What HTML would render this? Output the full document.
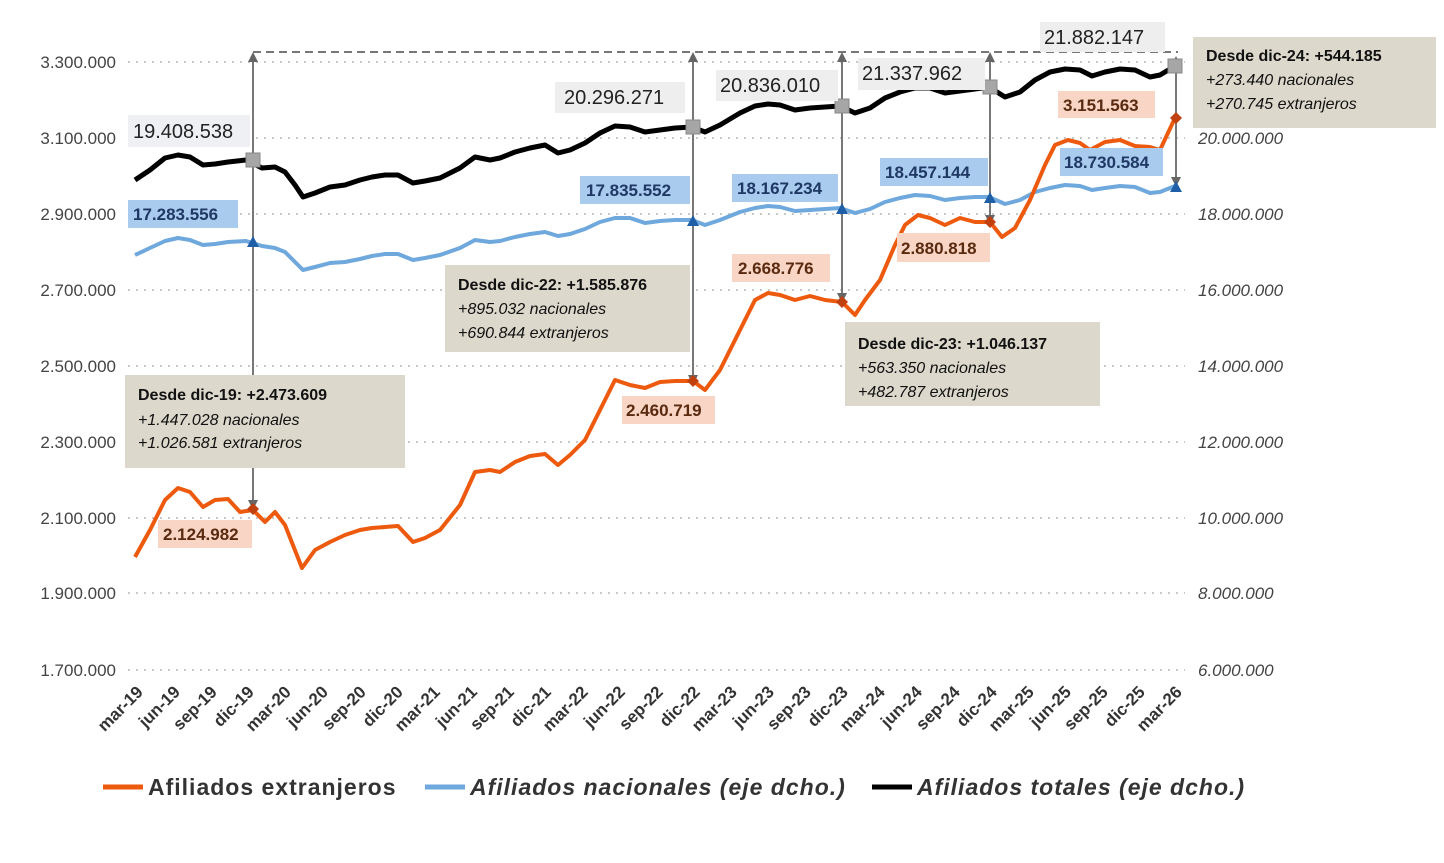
<!DOCTYPE html>
<html><head><meta charset="utf-8"><style>
body{margin:0;background:#fff}
svg{display:block;font-family:"Liberation Sans",sans-serif}
</style></head><body>
<svg width="1444" height="863" viewBox="0 0 1444 863" xmlns="http://www.w3.org/2000/svg">
<g stroke="#c8c8c8" stroke-width="2" stroke-dasharray="2,6">
<line x1="128" y1="62" x2="1185" y2="62"/><line x1="128" y1="138" x2="1185" y2="138"/>
<line x1="128" y1="214" x2="1185" y2="214"/><line x1="128" y1="290" x2="1185" y2="290"/>
<line x1="128" y1="366" x2="1185" y2="366"/><line x1="128" y1="442" x2="1185" y2="442"/>
<line x1="128" y1="518" x2="1185" y2="518"/><line x1="128" y1="593" x2="1185" y2="593"/>
<line x1="128" y1="670" x2="1185" y2="670"/>
</g>
<g font-size="17" fill="#444" text-anchor="end">
<text x="116" y="68">3.300.000</text><text x="116" y="144">3.100.000</text><text x="116" y="220">2.900.000</text>
<text x="116" y="296">2.700.000</text><text x="116" y="372">2.500.000</text><text x="116" y="448">2.300.000</text>
<text x="116" y="524">2.100.000</text><text x="116" y="599">1.900.000</text><text x="116" y="676">1.700.000</text>
</g>
<g font-size="17" fill="#444" font-style="italic">
<text x="1198" y="144">20.000.000</text><text x="1198" y="220">18.000.000</text><text x="1198" y="296">16.000.000</text>
<text x="1198" y="372">14.000.000</text><text x="1198" y="448">12.000.000</text><text x="1198" y="524">10.000.000</text>
<text x="1198" y="599">8.000.000</text><text x="1198" y="676">6.000.000</text>
</g>
<line x1="253" y1="52" x2="1178" y2="52" stroke="#777" stroke-width="2" stroke-dasharray="8,5"/>
<g stroke="#777" stroke-width="2">
<line x1="253" y1="55" x2="253" y2="505"/><line x1="693" y1="55" x2="693" y2="380"/>
<line x1="842" y1="55" x2="842" y2="298"/><line x1="990" y1="55" x2="990" y2="220"/>
<line x1="1176" y1="60" x2="1176" y2="183"/>
</g>
<g fill="#666">
<polygon points="248,62 253,52 258,62"/><polygon points="688,62 693,52 698,62"/><polygon points="837,62 842,52 847,62"/>
<polygon points="985,62 990,52 995,62"/><polygon points="1171,66 1176,56 1181,66"/>
<polygon points="688,375 693,385 698,375"/><polygon points="837,293 842,303 847,293"/><polygon points="985,215 990,225 995,215"/>
<polygon points="1171,177 1176,187 1181,177"/><polygon points="248,500 253,510 258,500"/>
</g>
<polyline fill="none" stroke="#000" stroke-width="5" stroke-linejoin="round" points="135,180 150,170 165,158 178,155 190,157 203,165 215,164 228,162 246,160 262,168 275,167 285,172 295,185 303,197 315,193 330,187 345,185 360,180 372,177 385,175 398,175 413,183 425,181 440,178 460,168 475,157 490,160 500,158 515,152 530,148 545,145 558,153 570,150 585,143 600,133 615,126 630,127 645,132 660,130 675,128 692,127 705,132 720,125 740,113 755,106 768,104 780,105 795,110 810,108 825,107 840,106 855,113 870,108 885,98 900,92 915,88 930,88 945,93 960,91 975,89 989,87 1005,97 1020,92 1035,80 1050,72 1065,69 1080,70 1092,76 1105,72 1120,69 1135,70 1150,77 1160,75 1175,66"/>
<polyline fill="none" stroke="#6fa8dc" stroke-width="4" stroke-linejoin="round" points="135,255 150,248 165,241 178,238 190,240 203,245 215,244 228,242 246,241 262,246 275,248 285,252 295,262 303,270 315,267 330,263 345,262 360,259 372,256 385,254 398,254 413,260 425,258 440,255 460,248 475,240 490,242 500,241 515,237 530,234 545,232 558,236 570,234 585,229 600,222 615,218 630,218 645,223 660,221 675,220 692,220 705,225 720,220 740,212 755,208 768,206 780,207 795,211 810,210 825,209 840,208 855,213 870,209 885,202 900,198 915,195 930,196 945,200 960,198 975,197 989,197 1005,204 1020,200 1035,192 1050,188 1065,185 1080,186 1092,190 1105,188 1120,186 1135,187 1150,193 1160,192 1175,186"/>
<polyline fill="none" stroke="#ed5a0e" stroke-width="4" stroke-linejoin="round" points="135,557 150,530 165,500 178,488 190,492 203,507 215,500 228,499 240,512 253,510 265,522 275,512 285,525 302,568 315,550 330,542 345,535 360,530 372,528 385,527 398,526 413,542 425,538 440,530 460,505 475,472 490,470 500,472 515,462 530,456 545,454 558,465 570,455 585,440 600,410 615,380 630,385 645,388 660,382 675,381 693,381 705,390 720,370 740,330 755,300 768,293 780,295 795,300 810,296 825,300 842,302 855,315 865,300 880,280 895,245 905,225 918,215 930,218 945,225 960,218 975,222 990,222 1002,237 1015,228 1030,200 1045,165 1055,145 1068,140 1080,143 1090,150 1105,142 1120,140 1135,146 1150,147 1160,150 1175,118"/>
<g fill="#a6a6a6" stroke="#888"><rect x="246" y="153" width="14" height="14"/><rect x="686" y="120" width="14" height="14"/><rect x="835" y="99" width="14" height="14"/><rect x="983" y="80" width="14" height="14"/><rect x="1168" y="59" width="14" height="14"/></g>
<g fill="#1f5fa8"><polygon points="253,236 247,247 259,247"/><polygon points="693,215 687,226 699,226"/><polygon points="842,203 836,214 848,214"/><polygon points="990,192 984,203 996,203"/><polygon points="1176,181 1170,192 1182,192"/></g>
<g fill="#c0400e"><polygon points="253,503 259,509 253,515 247,509"/><polygon points="693,375 699,381 693,387 687,381"/><polygon points="842,296 848,302 842,308 836,302"/><polygon points="990,216 996,222 990,228 984,222"/><polygon points="1176,112 1182,118 1176,124 1170,118"/></g>
<g font-size="20" fill="#222">
<rect x="128" y="115" width="122" height="32" fill="#eef0f4"/><text x="133" y="138">19.408.538</text>
<rect x="555" y="82" width="130" height="31" fill="#eeeeee"/><text x="564" y="104">20.296.271</text>
<rect x="716" y="70" width="122" height="31" fill="#eeeeee"/><text x="720" y="92">20.836.010</text>
<rect x="858" y="58" width="127" height="32" fill="#eeeeee"/><text x="862" y="80">21.337.962</text>
<rect x="1040" y="22" width="125" height="30" fill="#eeeeee"/><text x="1044" y="44">21.882.147</text>
</g>
<g font-size="17" fill="#1f3864" font-weight="bold">
<rect x="128" y="200" width="110" height="28" fill="#a9cbee"/><text x="133" y="220">17.283.556</text>
<rect x="580" y="176" width="110" height="28" fill="#a9cbee"/><text x="586" y="196">17.835.552</text>
<rect x="732" y="174" width="106" height="28" fill="#a9cbee"/><text x="737" y="194">18.167.234</text>
<rect x="880" y="158" width="108" height="28" fill="#a9cbee"/><text x="885" y="178">18.457.144</text>
<rect x="1060" y="148" width="103" height="28" fill="#a9cbee"/><text x="1064" y="168">18.730.584</text>
</g>
<g font-size="17" fill="#5a2a10" font-weight="bold">
<rect x="158" y="520" width="94" height="28" fill="#f8d5c4"/><text x="163" y="540">2.124.982</text>
<rect x="622" y="396" width="93" height="28" fill="#f8d5c4"/><text x="626" y="416">2.460.719</text>
<rect x="732" y="254" width="98" height="28" fill="#f8d5c4"/><text x="738" y="274">2.668.776</text>
<rect x="897" y="233" width="93" height="29" fill="#f8d5c4"/><text x="901" y="254">2.880.818</text>
<rect x="1058" y="91" width="97" height="27" fill="#f8d5c4"/><text x="1063" y="111">3.151.563</text>
</g>
<g fill="#dcd8cc"><rect x="125" y="375" width="280" height="93"/><rect x="445" y="265" width="245" height="87"/><rect x="845" y="322" width="255" height="84"/><rect x="1193" y="37" width="243" height="91"/></g>
<g font-size="16" fill="#111">
<text x="138" y="400" font-weight="bold">Desde dic-19: +2.473.609</text>
<text x="138" y="425" font-style="italic">+1.447.028 nacionales</text>
<text x="138" y="448" font-style="italic">+1.026.581 extranjeros</text>
<text x="458" y="290" font-weight="bold">Desde dic-22: +1.585.876</text>
<text x="458" y="314" font-style="italic">+895.032 nacionales</text>
<text x="458" y="338" font-style="italic">+690.844 extranjeros</text>
<text x="858" y="349" font-weight="bold">Desde dic-23: +1.046.137</text>
<text x="858" y="373" font-style="italic">+563.350  nacionales</text>
<text x="858" y="397" font-style="italic">+482.787 extranjeros</text>
<text x="1206" y="61" font-weight="bold">Desde dic-24: +544.185</text>
<text x="1206" y="85" font-style="italic">+273.440  nacionales</text>
<text x="1206" y="109" font-style="italic">+270.745  extranjeros</text>
</g>
<g font-size="17" fill="#333" font-weight="bold" text-anchor="end">
<text transform="translate(144,693) rotate(-45)">mar-19</text>
<text transform="translate(181,693) rotate(-45)">jun-19</text>
<text transform="translate(218,693) rotate(-45)">sep-19</text>
<text transform="translate(255,693) rotate(-45)">dic-19</text>
<text transform="translate(292,693) rotate(-45)">mar-20</text>
<text transform="translate(329,693) rotate(-45)">jun-20</text>
<text transform="translate(367,693) rotate(-45)">sep-20</text>
<text transform="translate(404,693) rotate(-45)">dic-20</text>
<text transform="translate(441,693) rotate(-45)">mar-21</text>
<text transform="translate(478,693) rotate(-45)">jun-21</text>
<text transform="translate(515,693) rotate(-45)">sep-21</text>
<text transform="translate(552,693) rotate(-45)">dic-21</text>
<text transform="translate(589,693) rotate(-45)">mar-22</text>
<text transform="translate(626,693) rotate(-45)">jun-22</text>
<text transform="translate(664,693) rotate(-45)">sep-22</text>
<text transform="translate(701,693) rotate(-45)">dic-22</text>
<text transform="translate(738,693) rotate(-45)">mar-23</text>
<text transform="translate(775,693) rotate(-45)">jun-23</text>
<text transform="translate(812,693) rotate(-45)">sep-23</text>
<text transform="translate(849,693) rotate(-45)">dic-23</text>
<text transform="translate(886,693) rotate(-45)">mar-24</text>
<text transform="translate(923,693) rotate(-45)">jun-24</text>
<text transform="translate(961,693) rotate(-45)">sep-24</text>
<text transform="translate(998,693) rotate(-45)">dic-24</text>
<text transform="translate(1035,693) rotate(-45)">mar-25</text>
<text transform="translate(1072,693) rotate(-45)">jun-25</text>
<text transform="translate(1109,693) rotate(-45)">sep-25</text>
<text transform="translate(1146,693) rotate(-45)">dic-25</text>
<text transform="translate(1183,693) rotate(-45)">mar-26</text>
</g>
<line x1="103" y1="787" x2="143" y2="787" stroke="#ed5a0e" stroke-width="5"/>
<text x="148" y="795" font-size="23" fill="#333" font-weight="bold" letter-spacing="1">Afiliados extranjeros</text>
<line x1="425" y1="787" x2="465" y2="787" stroke="#6fa8dc" stroke-width="5"/>
<text x="470" y="795" font-size="23" fill="#333" font-weight="bold" font-style="italic" letter-spacing="1">Afiliados nacionales (eje dcho.)</text>
<line x1="872" y1="787" x2="912" y2="787" stroke="#000" stroke-width="5"/>
<text x="917" y="795" font-size="23" fill="#333" font-weight="bold" font-style="italic" letter-spacing="1">Afiliados totales (eje dcho.)</text>
</svg>
</body></html>
